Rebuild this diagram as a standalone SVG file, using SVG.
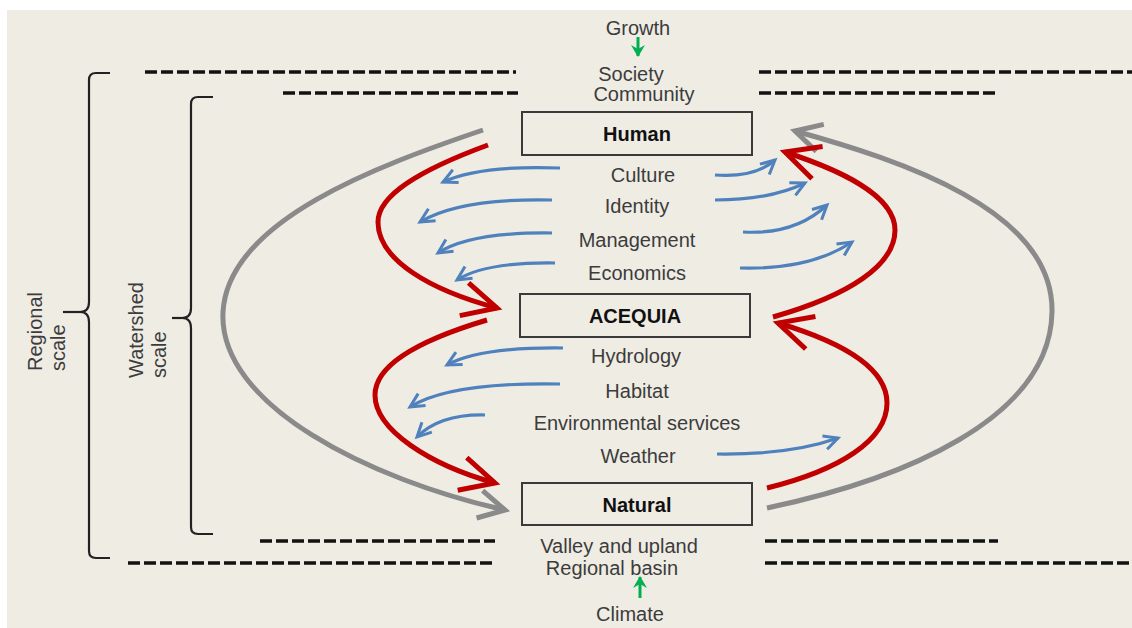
<svg xmlns="http://www.w3.org/2000/svg" width="1132" height="628" viewBox="0 0 1132 628">
<style>
.t{font-family:"Liberation Sans",Arial,sans-serif;font-size:20px;fill:#3c3c3c;text-anchor:middle}
.b{font-family:"Liberation Sans",Arial,sans-serif;font-size:20px;font-weight:bold;fill:#111;text-anchor:middle}
.box{fill:none;stroke:#3a3a3a;stroke-width:2}
.dash{stroke:#111;stroke-width:3.5;stroke-dasharray:12 4;fill:none}
.br{fill:none;stroke:#222;stroke-width:2.2}
.red{fill:none;stroke:#c00000;stroke-width:5;marker-end:url(#mr)}
.gray{fill:none;stroke:#8a8a8a;stroke-width:5;marker-end:url(#mg)}
.blue{fill:none;stroke:#4f81bd;stroke-width:3.2;marker-end:url(#mb)}
.green{fill:none;stroke:#00b050;stroke-width:3;marker-end:url(#mgr)}
</style>
<defs>
<marker id="mr" markerUnits="userSpaceOnUse" viewBox="-40 -22 44 44" markerWidth="44" markerHeight="44" refX="0" refY="0" orient="auto" overflow="visible">
<path d="M-34,-17 L0,0 L-34,17" fill="none" stroke="#c00000" stroke-width="5"/>
</marker>
<marker id="mg" markerUnits="userSpaceOnUse" viewBox="-40 -22 44 44" markerWidth="44" markerHeight="44" refX="0" refY="0" orient="auto" overflow="visible">
<path d="M-26,-14 L0,0 L-26,14" fill="none" stroke="#8a8a8a" stroke-width="5"/>
</marker>
<marker id="mb" markerUnits="userSpaceOnUse" viewBox="-20 -12 24 24" markerWidth="24" markerHeight="24" refX="0" refY="0" orient="auto" overflow="visible">
<path d="M-14,-7 L0,0 L-14,7" fill="none" stroke="#4f81bd" stroke-width="3"/>
</marker>
<marker id="mgr" markerUnits="userSpaceOnUse" viewBox="-14 -8 16 16" markerWidth="16" markerHeight="16" refX="0" refY="0" orient="auto" overflow="visible">
<path d="M-11,-7 L1,0 L-11,7 L-7,0 Z" fill="#00b050"/>
</marker>
</defs>
<rect x="0" y="0" width="1132" height="628" fill="#ffffff"/>
<rect x="7" y="10" width="1125" height="618" fill="#efece4"/>

<g id="scale-lines">
<line class="dash" x1="145" y1="72" x2="516" y2="72"/>
<line class="dash" x1="759" y1="72" x2="1132" y2="72"/>
<line class="dash" x1="283" y1="93" x2="518" y2="93"/>
<line class="dash" x1="759" y1="93" x2="995" y2="93"/>
<line class="dash" x1="260" y1="541" x2="495" y2="541"/>
<line class="dash" x1="765" y1="541" x2="998" y2="541"/>
<line class="dash" x1="128" y1="563" x2="495" y2="563"/>
<line class="dash" x1="765" y1="563" x2="1132" y2="563"/>
</g>

<g id="regional-bracket">
<path class="br" d="M110,73 L96,73 Q89,73 89,80 L89,302 Q89,312 80,312 Q89,312 89,322 L89,551 Q89,558 96,558 L110,558"/>
<line class="br" x1="63" y1="312" x2="80" y2="312"/>
<text class="t" style="text-anchor:start" transform="translate(42,371) rotate(-90)">Regional</text>
<text class="t" style="text-anchor:start" transform="translate(65,371) rotate(-90)">scale</text>
</g>

<g id="watershed-bracket">
<path class="br" d="M213,97 L198,97 Q191,97 191,104 L191,308 Q191,318 182,318 Q191,318 191,328 L191,527 Q191,534 198,534 L213,534"/>
<line class="br" x1="172" y1="318" x2="182" y2="318"/>
<text class="t" style="text-anchor:start" transform="translate(143,378) rotate(-90)">Watershed</text>
<text class="t" style="text-anchor:start" transform="translate(166,378) rotate(-90)">scale</text>
</g>

<g id="top-labels">
<text class="t" x="638" y="35">Growth</text>
<text class="t" x="631" y="81">Society</text>
<text class="t" x="644" y="101">Community</text>
</g>

<g id="human">
<rect class="box" x="522" y="112" width="230" height="43"/>
<text class="b" x="637" y="141">Human</text>
</g>
<g id="acequia">
<rect class="box" x="520" y="294" width="230" height="43"/>
<text class="b" x="635" y="323">ACEQUIA</text>
</g>
<g id="natural">
<rect class="box" x="522" y="483" width="230" height="42"/>
<text class="b" x="637" y="512">Natural</text>
</g>

<g id="flow-labels">
<text class="t" x="643" y="182">Culture</text>
<text class="t" x="637" y="213">Identity</text>
<text class="t" x="637" y="247">Management</text>
<text class="t" x="637" y="280">Economics</text>
<text class="t" x="636" y="363">Hydrology</text>
<text class="t" x="637" y="398">Habitat</text>
<text class="t" x="637" y="430">Environmental services</text>
<text class="t" x="638" y="463">Weather</text>
</g>

<g id="bottom-labels">
<text class="t" x="619" y="553">Valley and upland</text>
<text class="t" x="612" y="575">Regional basin</text>
<text class="t" x="630" y="621">Climate</text>
</g>

<g id="connectors">
<path class="gray" d="M483,130 C380,165 228,220 223,312 C218,405 370,480 505,510"/>
<path class="gray" d="M767,508 C900,480 1050,420 1052,312 C1054,210 900,160 795,131"/>
<path class="red" d="M488,145 C420,170 378,195 378,222 C378,260 430,290 497,308"/>
<path class="red" d="M487,320 C420,340 375,365 375,395 C375,430 430,465 495,483"/>
<path class="red" d="M773,317 C850,295 895,265 895,230 C895,195 840,170 785,152"/>
<path class="red" d="M767,488 C840,470 887,440 887,403 C887,365 835,340 778,323"/>
<path class="blue" d="M560,168 Q480,165 443,182"/>
<path class="blue" d="M552,200 Q460,198 420,222"/>
<path class="blue" d="M552,233 Q470,232 438,253"/>
<path class="blue" d="M555,263 Q485,262 457,280"/>
<path class="blue" d="M563,348 Q480,347 447,365"/>
<path class="blue" d="M560,384 Q450,382 410,407"/>
<path class="blue" d="M485,415 Q440,414 417,437"/>
<path class="blue" d="M715,175 Q755,178 775,160"/>
<path class="blue" d="M715,200 Q770,200 805,183"/>
<path class="blue" d="M743,232 Q795,235 827,205"/>
<path class="blue" d="M740,268 Q810,270 852,242"/>
<path class="blue" d="M717,454 Q790,455 838,438"/>
<path class="green" d="M638,37 L638,56"/>
<path class="green" d="M640,598 L640,577"/>
</g>
</svg>
